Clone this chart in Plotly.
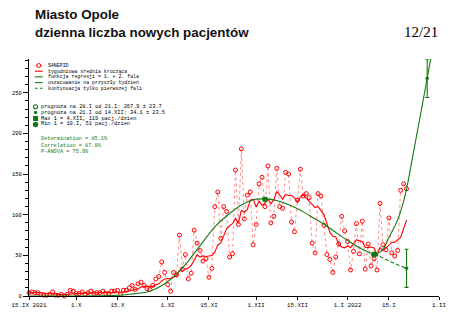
import plotly.graph_objects as go
import pandas as pd

# ---------------- data ----------------
start_date = "2021-09-15"
sanepid = [4, 5, 4, 4, 2, 1, 1, 2, 5, 1,
           1, 2, 0, 2, 7, 6, 3, 3, 5, 2,
           4, 6, 3, 4, 4, 6, 3, 3, 6, 6,
           7, 2, 7, 7, 10, 13, 8, 15, 17, 13,
           9, 8, 13, 21, 24, 42, 29, 14, 6, 29,
           26, 75, 33, 51, 21, 28, 81, 65, 56, 43,
           46, 23, 34, 110, 128, 71, 110, 104, 48, 52,
           155, 88, 181, 95, 124, 128, 63, 88, 138, 146,
           110, 160, 90, 98, 157, 110, 108, 152, 150, 91,
           79, 118, 156, 123, 126, 121, 65, 53, 126, 123,
           87, 51, 45, 29, 48, 64, 98, 80, 67, 32,
           55, 89, 52, 92, 33, 64, 37, 46, 32, 114,
           63, 57, 96, 53, 49, 56, 130, 138, 132]

# regression curve (1st + 2nd wave): day offset, value
reg_days = [0, 25, 30, 35, 40, 43, 46, 50, 54, 58, 63, 67.5, 72, 76, 80, 84,
            89.5, 93, 96, 100.5, 104.5, 108.5, 112.5, 115, 117, 119, 120.5,
            122, 123.5, 125, 126.5, 128, 130, 132, 134, 135, 136.5]
reg_vals = [0, 0.3, 1, 2.5, 5, 9, 15, 27, 43, 62, 85, 100, 112, 118.5, 119.5,
            117.5, 110, 103.5, 97, 87, 77, 67, 58.5, 54, 51.6, 54, 60,
            72, 82, 94, 110, 131.6, 170, 209, 248, 268, 298]

# continuation of only the first wave
cont_days = [117, 119, 121, 123, 125, 128]
cont_vals = [51.6, 48.5, 45.0, 41.5, 38.5, 34.1]

forecast1 = ("2022-01-28", 267.9, 23.7)
forecast2 = ("2022-01-21", 34.1, 23.5)
max1 = ("2021-12-04", 119)
min1 = ("2022-01-10", 51)

tick_dates = ["2021-09-15", "2021-10-01", "2021-10-15", "2021-11-01", "2021-11-15",
              "2021-12-01", "2021-12-15", "2022-01-01", "2022-01-15", "2022-02-01"]
tick_text = ["15.IX 2021", "1.X", "15.X", "1.XI", "15.XI", "1.XII", "15.XII",
             "1.I 2022", "15.I", "1.II"]

legend_labels = ["SANEPID", "tygodniowa średnia krocząca",
                 "funkcja regresji = 1. + 2. fala",
                 "oszacowanie na przyszły tydzień",
                 "kontynuacja tylko pierwszej fali"]
info_labels = ["prognoza na 28.I od 21.I: 267.9 ± 23.7",
               "prognoza na 21.I od 14.XII: 34.1 ± 23.5",
               "Max 1 = 4.XII, 119 pacj./dzien",
               "Min 1 = 10.I, 51 pacj./dzien"]
stat_labels = ["Determination = 85.1%", "Correlation = 87.8%", "P-ANOVA = 75.9%"]

# ---------------- styling ----------------
RED = "#ff0000"
PINK = "#ff8080"
GREEN = "#137a13"
MONO = "Liberation Mono"
L, R, T, B = 20, 25, 59, 32
W, H = 464, 328


def px_x(p):
    return (p - L) / (W - L - R)


def px_y(p):
    return (H - B - p) / (H - T - B)


start = pd.Timestamp(start_date)
dates = pd.date_range(start, periods=len(sanepid), freq="D")
avg7 = pd.Series(sanepid).rolling(7, min_periods=1).mean()
reg_x = [start + pd.Timedelta(days=d) for d in reg_days]
cont_x = [start + pd.Timedelta(days=d) for d in cont_days]

fig = go.Figure()

fig.add_trace(go.Scatter(x=dates, y=sanepid, mode="lines+markers",
                         line=dict(color=PINK, width=0.9, dash="dot"),
                         marker=dict(symbol="circle-open", size=4, color=RED,
                                     line=dict(width=1, color=RED)),
                         cliponaxis=False))
fig.add_trace(go.Scatter(x=dates, y=avg7, mode="lines",
                         line=dict(color=RED, width=1.1)))
fig.add_trace(go.Scatter(x=reg_x, y=reg_vals, mode="lines",
                         line=dict(color=GREEN, width=1.1, shape="spline", smoothing=0.8)))
fig.add_trace(go.Scatter(x=cont_x, y=cont_vals, mode="lines",
                         line=dict(color=GREEN, width=1.1, dash="4px,2px", shape="spline")))
fig.add_trace(go.Scatter(x=[forecast1[0]], y=[forecast1[1]], mode="markers",
                         marker=dict(symbol="circle", size=3.5, color=GREEN),
                         error_y=dict(type="data", array=[forecast1[2]], color=GREEN,
                                      thickness=1.1, width=2),
                         cliponaxis=False))
fig.add_trace(go.Scatter(x=[forecast2[0]], y=[forecast2[1]], mode="markers",
                         marker=dict(symbol="circle", size=3.5, color=GREEN),
                         error_y=dict(type="data", array=[forecast2[2]], color=GREEN,
                                      thickness=1.1, width=2)))
fig.add_trace(go.Scatter(x=[max1[0]], y=[max1[1]], mode="markers",
                         marker=dict(symbol="square", size=5, color=GREEN)))
fig.add_trace(go.Scatter(x=[min1[0]], y=[min1[1]], mode="markers",
                         marker=dict(symbol="circle", size=6, color=GREEN)))

# ---------- legend drawn in pixel coordinates on overlay axes ----------
leg_y = [65.5, 71.2, 76.9, 82.6, 88.3]
leg_styles = [dict(color=PINK, width=0.9, dash="dot"), dict(color=RED, width=1.1),
              dict(color=GREEN, width=1.1), dict(color=GREEN, width=1.1),
              dict(color=GREEN, width=1.1, dash="3px,2px")]
for yy, st in zip(leg_y, leg_styles):
    fig.add_trace(go.Scatter(x=[26, 34], y=[yy, yy], mode="lines", line=st,
                             xaxis="x2", yaxis="y2"))
fig.add_trace(go.Scatter(x=[30], y=[leg_y[0]], mode="markers", xaxis="x2", yaxis="y2",
                         marker=dict(symbol="circle-open", size=4, color=RED,
                                     line=dict(width=1, color=RED))))
info_y = [106.7, 112.6, 118.5, 124.4]
info_markers = [dict(symbol="circle-open", size=4, color=GREEN, line=dict(width=1.1, color=GREEN)),
                dict(symbol="circle", size=3.5, color=GREEN),
                dict(symbol="square", size=5, color=GREEN),
                dict(symbol="circle", size=5.5, color=GREEN)]
for yy, mk in zip(info_y, info_markers):
    fig.add_trace(go.Scatter(x=[26.7], y=[yy], mode="markers", marker=mk,
                             xaxis="x2", yaxis="y2"))

ann = []
for yy, t in zip(leg_y, legend_labels):
    ann.append(dict(x=px_x(37.5), y=px_y(yy), text=t, xanchor="left", yanchor="middle",
                    font=dict(family=MONO, size=4.9, color="black")))
for yy, t in zip(info_y, info_labels):
    ann.append(dict(x=px_x(30.5), y=px_y(yy), text=t, xanchor="left", yanchor="middle",
                    font=dict(family=MONO, size=5.3, color="black")))
for yy, t in zip([139.3, 145.6, 151.9], stat_labels):
    ann.append(dict(x=px_x(30.5), y=px_y(yy), text=t, xanchor="left", yanchor="middle",
                    font=dict(family=MONO, size=5.25, color=GREEN)))
ann.append(dict(x=px_x(24.5), y=px_y(14.3), text="<b>Miasto Opole</b>", xanchor="left",
                yanchor="middle", font=dict(family="Liberation Sans", size=13.4, color="#111")))
ann.append(dict(x=px_x(24.5), y=px_y(32.5), text="<b>dzienna liczba nowych pacjentów</b>",
                xanchor="left", yanchor="middle",
                font=dict(family="Liberation Sans", size=13.4, color="#111")))
ann.append(dict(x=px_x(440), y=px_y(32.5), text="12/21", xanchor="right", yanchor="middle",
                font=dict(family="Liberation Serif", size=15, color="black")))
for a in ann:
    a.update(xref="paper", yref="paper", showarrow=False)

fig.update_layout(
    width=W, height=H,
    margin=dict(l=L, r=R, t=T, b=B),
    paper_bgcolor="white", plot_bgcolor="white",
    showlegend=False,
    annotations=ann,
    xaxis=dict(type="date", range=["2021-09-15", "2022-02-01"],
               tickvals=tick_dates, ticktext=tick_text,
               ticks="outside", ticklen=3, tickwidth=1, tickcolor="black",
               showline=True, linecolor="black", linewidth=1.2,
               showgrid=False, zeroline=False,
               tickfont=dict(family=MONO, size=5.8, color="black")),
    yaxis=dict(range=[0, 291.6], tickvals=[0, 50, 100, 150, 200, 250],
               ticks="outside", ticklen=5, tickwidth=1, tickcolor="black",
               minor=dict(dtick=10, ticks="outside", ticklen=2.5, tickwidth=1,
                          tickcolor="black", showgrid=False),
               showline=True, linecolor="black", linewidth=1.2,
               showgrid=False, zeroline=False,
               tickfont=dict(family=MONO, size=5.5, color="black")),
    xaxis2=dict(overlaying="x", range=[L, W - R], visible=False, fixedrange=True),
    yaxis2=dict(overlaying="y", range=[H - B, T], visible=False, fixedrange=True),
)

fig.write_html("out.html")
